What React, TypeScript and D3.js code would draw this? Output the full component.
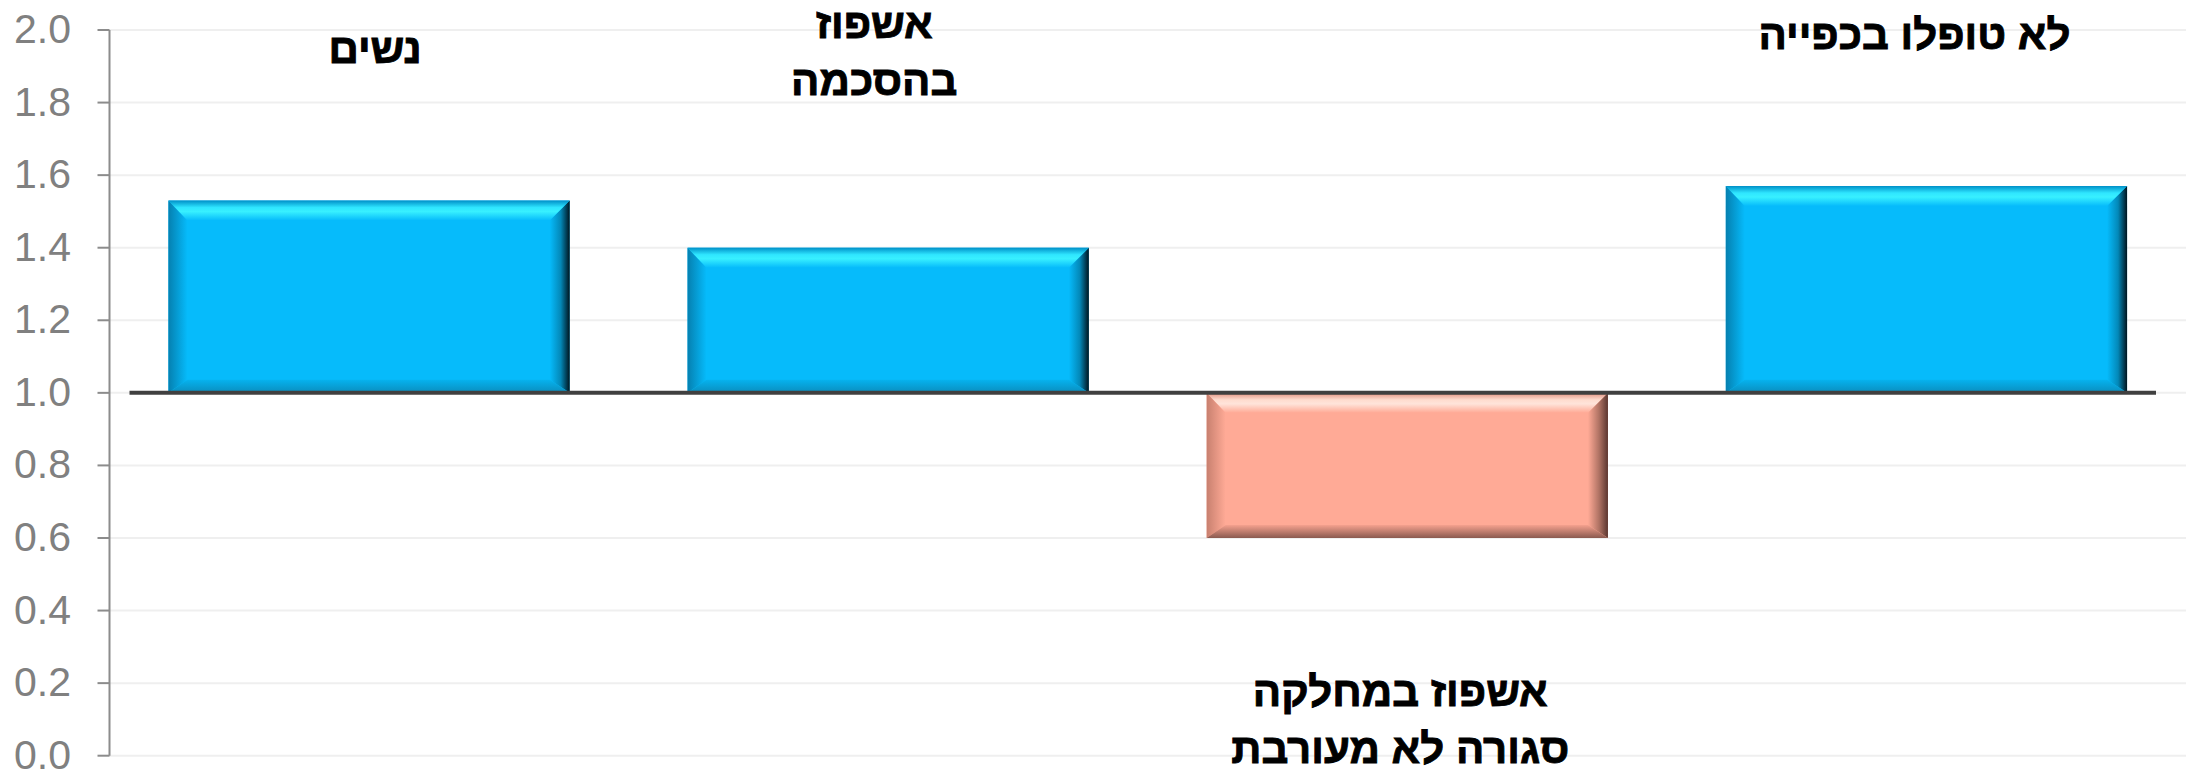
import React from 'react';
import * as d3 from 'd3';

// ---- data ----
const categories = ['נשים', 'אשפוז בהסכמה', 'אשפוז במחלקה סגורה לא מעורבת', 'לא טופלו בכפייה'];
const labelLines = [['נשים'], ['אשפוז', 'בהסכמה'], ['אשפוז במחלקה', 'סגורה לא מעורבת'], ['לא טופלו בכפייה']];
const values = [1.53, 1.40, 0.60, 1.57];
const crossValue = 1.0;
const yTicks = [0, 0.2, 0.4, 0.6, 0.8, 1.0, 1.2, 1.4, 1.6, 1.8, 2.0];
const yDomain = [0, 2];

// ---- layout (not data) ----
const W = 2199;
const H = 770;
const plot = { left: 109.5, right: 2186, top: 30, bottom: 755.7 };
const labelLayout = [
  { v: 1.908, dx: 6 },
  { v: 1.978, dx: -14 },
  { v: 0.137, dx: -7 },
  { v: 1.948, dx: -12 },
];
const lineGap = 57;

const palette = {
  pos: { base: '#06BBFB', top: ['#0090c8', '#2fe6ff', '#38f0ff', '#06BBFB'], left: ['#0580b0', '#06BBFB'], right: ['#06BBFB', '#0388b8', '#00141e'], bottom: ['#06b2ee', '#0a8dbd'] },
  neg: { base: '#FFAA96', top: ['#e0907e', '#ffdccf', '#ffe4da', '#FFAA96'], left: ['#c8806f', '#FFAA96'], right: ['#FFAA96', '#b07364', '#5a3630'], bottom: ['#f5a18e', '#8a5a50'] },
};

function Gradients({ id, p }: { id: string; p: any }) {
  return (
    <>
      <linearGradient id={`${id}-top`} x1="0" y1="0" x2="0" y2="1">
        <stop offset="0" stopColor={p.top[0]} />
        <stop offset="0.35" stopColor={p.top[1]} />
        <stop offset="0.55" stopColor={p.top[2]} />
        <stop offset="1" stopColor={p.top[3]} />
      </linearGradient>
      <linearGradient id={`${id}-left`} x1="0" y1="0" x2="1" y2="0">
        <stop offset="0" stopColor={p.left[0]} />
        <stop offset="1" stopColor={p.left[1]} />
      </linearGradient>
      <linearGradient id={`${id}-right`} x1="0" y1="0" x2="1" y2="0">
        <stop offset="0" stopColor={p.right[0]} />
        <stop offset="0.55" stopColor={p.right[1]} />
        <stop offset="1" stopColor={p.right[2]} />
      </linearGradient>
      <linearGradient id={`${id}-bottom`} x1="0" y1="0" x2="0" y2="1">
        <stop offset="0" stopColor={p.bottom[0]} />
        <stop offset="1" stopColor={p.bottom[1]} />
      </linearGradient>
    </>
  );
}

function BevelBar({ x0, x1, y0, y1, id }: { x0: number; x1: number; y0: number; y1: number; id: string }) {
  const h = y1 - y0;
  const bt = Math.min(20, h / 3);
  const bb = Math.min(13, h / 4);
  const bl = 19;
  const br = 20;
  const ix0 = x0 + bl, ix1 = x1 - br, iy0 = y0 + bt, iy1 = y1 - bb;
  const pts = (a: number[][]) => a.map((q) => q.join(',')).join(' ');
  const p = id === 'pos' ? palette.pos : palette.neg;
  return (
    <g>
      <rect x={x0} y={y0} width={x1 - x0} height={h} fill={p.base} />
      <polygon points={pts([[x0, y0], [x0, y1], [ix0, iy1], [ix0, iy0]])} fill={`url(#${id}-left)`} />
      <polygon points={pts([[x1, y0], [x1, y1], [ix1, iy1], [ix1, iy0]])} fill={`url(#${id}-right)`} />
      <polygon points={pts([[x0, y1], [x1, y1], [ix1, iy1], [ix0, iy1]])} fill={`url(#${id}-bottom)`} />
      <polygon points={pts([[x0, y0], [x1, y0], [ix1, iy0], [ix0, iy0]])} fill={`url(#${id}-top)`} />
    </g>
  );
}

export default function App() {
  const y = d3.scaleLinear().domain(yDomain).range([plot.bottom, plot.top]);
  const x = d3
    .scaleBand<string>()
    .domain(categories)
    .range([plot.left, plot.right])
    .paddingInner(0.227)
    .paddingOuter(0.1135);
  const yc = y(crossValue);
  const font = "Arial, 'Liberation Sans', sans-serif";

  return (
    <svg
      width={W}
      height={H}
      style={{ position: 'absolute', left: 0, top: 0, display: 'block', background: '#fff' }}
    >
      <defs>
        <Gradients id="pos" p={palette.pos} />
        <Gradients id="neg" p={palette.neg} />
      </defs>
      {yTicks.map((t) => (
        <line key={`g${t}`} x1={plot.left} x2={plot.right} y1={y(t)} y2={y(t)} stroke="#efefef" strokeWidth={2} />
      ))}
      <line x1={plot.left} x2={plot.left} y1={plot.top} y2={plot.bottom} stroke="#8c8c8c" strokeWidth={2} />
      {yTicks.map((t) => (
        <g key={`t${t}`}>
          <line x1={plot.left - 12} x2={plot.left} y1={y(t)} y2={y(t)} stroke="#8c8c8c" strokeWidth={2} />
          <text x={71} y={y(t) + 13} textAnchor="end" fontFamily={font} fontSize={41} fill="#808080">
            {d3.format('.1f')(t)}
          </text>
        </g>
      ))}
      {categories.map((c, i) => {
        const v = values[i];
        const x0 = x(c)!;
        const x1 = x0 + x.bandwidth();
        const top = Math.min(y(v), yc);
        const bot = Math.max(y(v), yc);
        return <BevelBar key={c} x0={x0} x1={x1} y0={top} y1={bot} id={v >= crossValue ? 'pos' : 'neg'} />;
      })}
      <line x1={plot.left + 20} x2={plot.right - 30} y1={yc} y2={yc} stroke="#404040" strokeWidth={4} />
      {categories.map((c, i) => {
        const cx = x(c)! + x.bandwidth() / 2 + labelLayout[i].dx;
        const by = y(labelLayout[i].v);
        return (
          <text
            key={`l${c}`}
            x={cx}
            textAnchor="middle"
            fontFamily={font}
            fontSize={42}
            fontWeight="bold"
            fill="#000"
            stroke="#000"
            strokeWidth={0.9}
            direction="rtl"
          >
            {labelLines[i].map((ln, j) => (
              <tspan key={j} x={cx} y={by + j * lineGap}>
                {ln}
              </tspan>
            ))}
          </text>
        );
      })}
    </svg>
  );
}
